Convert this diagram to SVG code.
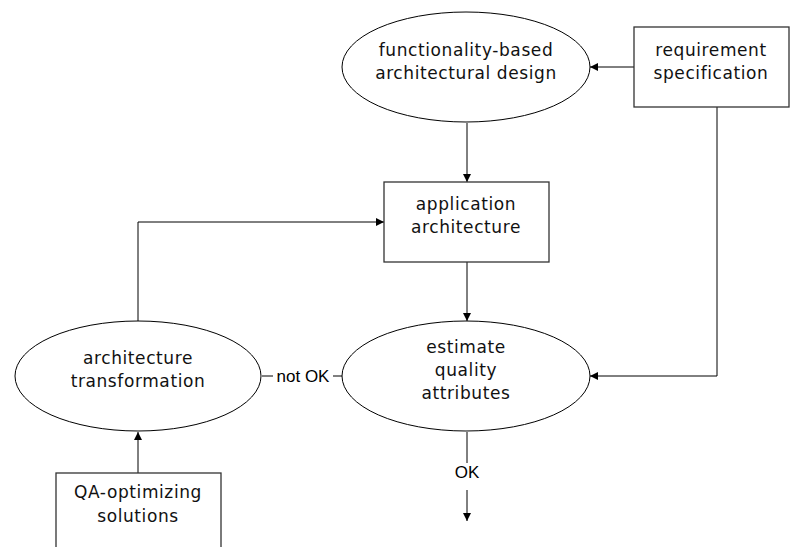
<svg xmlns="http://www.w3.org/2000/svg" width="790" height="547" viewBox="0 0 790 547">
<style>
.shape{fill:#fff;stroke:#000;stroke-width:1}
.box{fill:#fff;stroke:#333;stroke-width:1.3}
.t{font-family:"DejaVu Sans",Verdana,sans-serif;font-size:17px;fill:#111;text-anchor:middle;letter-spacing:0.6px}
.lbl{font-family:"Liberation Sans",Arial,sans-serif;font-size:17px;fill:#000;text-anchor:middle}
.c{fill:none;stroke:#000;stroke-width:1}
</style>
<defs>
<marker id="ah" viewBox="0 0 10 10" refX="10" refY="5" markerWidth="8" markerHeight="8" markerUnits="userSpaceOnUse" orient="auto">
<path d="M0,0 L10,5 L0,10 z" fill="#000"/>
</marker>
</defs>
<rect width="790" height="547" fill="#fff"/>
<g id="connectors">
<line class="c" x1="634" y1="67" x2="590" y2="67" marker-end="url(#ah)"/>
<line class="c" x1="467" y1="123" x2="467" y2="182" marker-end="url(#ah)"/>
<polyline class="c" points="717,107 717,376 590,376" marker-end="url(#ah)"/>
<line class="c" x1="467" y1="262" x2="467" y2="321" marker-end="url(#ah)"/>
<polyline class="c" points="138,321 138,222 384,222" marker-end="url(#ah)"/>
<line class="c" x1="138" y1="473" x2="138" y2="432" marker-end="url(#ah)"/>
<line class="c" x1="262" y1="376" x2="273" y2="376"/>
<line class="c" x1="333" y1="376" x2="343" y2="376"/>
<text class="lbl" x="303" y="382">not OK</text>
<line class="c" x1="467" y1="432" x2="467" y2="463"/>
<text class="lbl" x="467" y="478">OK</text>
<line class="c" x1="467" y1="490" x2="467" y2="521" marker-end="url(#ah)"/>
</g>
<g id="functionality-based">
<ellipse class="shape" cx="466" cy="67" rx="124" ry="55"/>
<text class="t" x="466" y="56">functionality-based</text>
<text class="t" x="466" y="79">architectural design</text>
</g>
<g id="requirement">
<rect class="box" x="634" y="27" width="155" height="80"/>
<text class="t" x="711" y="56">requirement</text>
<text class="t" x="711" y="79">specification</text>
</g>
<g id="application">
<rect class="box" x="384" y="182" width="165" height="80"/>
<text class="t" x="466" y="210">application</text>
<text class="t" x="466" y="233">architecture</text>
</g>
<g id="estimate">
<ellipse class="shape" cx="466" cy="376" rx="124" ry="55"/>
<text class="t" x="466" y="353">estimate</text>
<text class="t" x="466" y="376">quality</text>
<text class="t" x="466" y="399">attributes</text>
</g>
<g id="transformation">
<ellipse class="shape" cx="138" cy="376" rx="123" ry="55"/>
<text class="t" x="138" y="364">architecture</text>
<text class="t" x="138" y="387">transformation</text>
</g>
<g id="qa">
<rect class="box" x="56" y="473" width="165" height="90"/>
<text class="t" x="138" y="498">QA-optimizing</text>
<text class="t" x="138" y="522">solutions</text>
</g>
</svg>
